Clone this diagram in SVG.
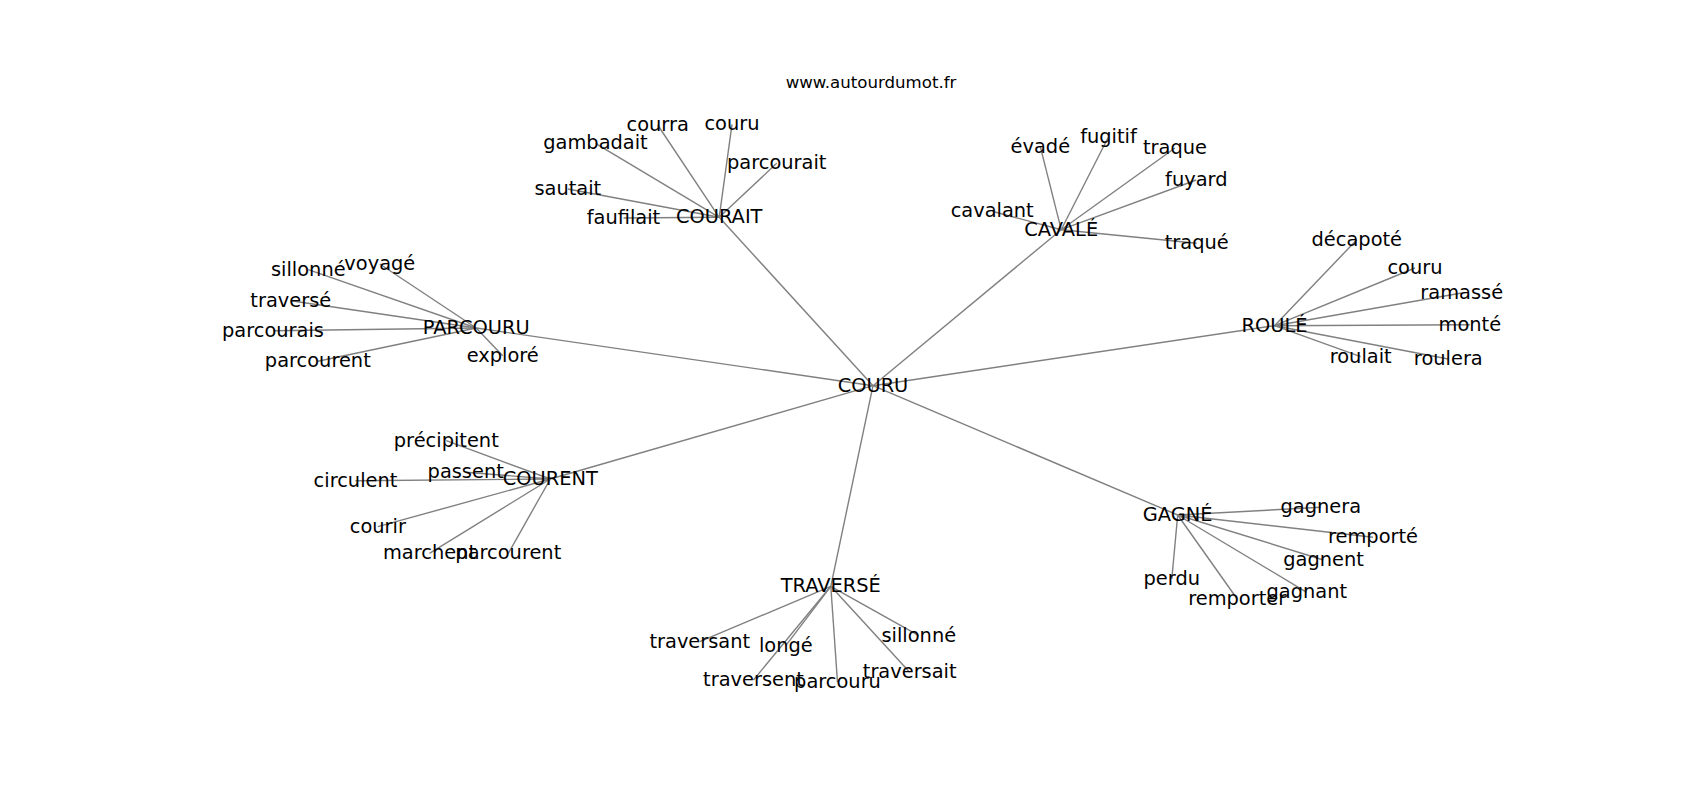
<svg xmlns="http://www.w3.org/2000/svg" width="1700" height="800" viewBox="0 0 1700 800">
<style>
  .bg { fill: #ffffff; }
  .lbl { font-family: "DejaVu Sans", "Liberation Sans", sans-serif; font-size: 19.4px; fill: #000000; text-anchor: middle; }
  .title { font-family: "DejaVu Sans", "Liberation Sans", sans-serif; font-size: 16.6px; fill: #000000; text-anchor: middle; }
  .edges line { stroke: #808080; stroke-width: 1.4; }
</style>
<rect class="bg" x="0" y="0" width="1700" height="800"/>
<text class="title" x="871" y="88.3">www.autourdumot.fr</text>
<g class="edges" id="connectors">
  <!-- hub edges -->
  <line x1="873" y1="385.7" x2="719.2" y2="217.3"/>
  <line x1="873" y1="385.7" x2="1061.2" y2="229.7"/>
  <line x1="873" y1="385.7" x2="1274.5" y2="325.7"/>
  <line x1="873" y1="385.7" x2="476.2" y2="328"/>
  <line x1="873" y1="385.7" x2="550.3" y2="479"/>
  <line x1="873" y1="385.7" x2="830.8" y2="586.3"/>
  <line x1="873" y1="385.7" x2="1177.7" y2="515"/>
  <!-- COURAIT -->
  <line x1="719.2" y1="217.3" x2="657.7" y2="125"/>
  <line x1="719.2" y1="217.3" x2="732" y2="124.3"/>
  <line x1="719.2" y1="217.3" x2="595.5" y2="143.3"/>
  <line x1="719.2" y1="217.3" x2="776.7" y2="163.3"/>
  <line x1="719.2" y1="217.3" x2="567.8" y2="189"/>
  <line x1="719.2" y1="217.3" x2="623.5" y2="218"/>
  <!-- CAVALÉ -->
  <line x1="1061.2" y1="229.7" x2="1040.3" y2="146.7"/>
  <line x1="1061.2" y1="229.7" x2="1108.5" y2="136.7"/>
  <line x1="1061.2" y1="229.7" x2="1175" y2="148"/>
  <line x1="1061.2" y1="229.7" x2="1196.3" y2="180"/>
  <line x1="1061.2" y1="229.7" x2="992.2" y2="211.3"/>
  <line x1="1061.2" y1="229.7" x2="1196.7" y2="243.3"/>
  <!-- ROULÉ -->
  <line x1="1274.5" y1="325.7" x2="1356.8" y2="239.7"/>
  <line x1="1274.5" y1="325.7" x2="1415" y2="268"/>
  <line x1="1274.5" y1="325.7" x2="1461.7" y2="293"/>
  <line x1="1274.5" y1="325.7" x2="1469.8" y2="324.7"/>
  <line x1="1274.5" y1="325.7" x2="1360.7" y2="356.7"/>
  <line x1="1274.5" y1="325.7" x2="1448.3" y2="359"/>
  <!-- PARCOURU -->
  <line x1="476.2" y1="328" x2="308.3" y2="269.7"/>
  <line x1="476.2" y1="328" x2="379.8" y2="264"/>
  <line x1="476.2" y1="328" x2="290.8" y2="300.7"/>
  <line x1="476.2" y1="328" x2="273" y2="330.7"/>
  <line x1="476.2" y1="328" x2="317.8" y2="361.3"/>
  <line x1="476.2" y1="328" x2="502.7" y2="355.7"/>
  <!-- COURENT -->
  <line x1="550.3" y1="479" x2="446.3" y2="440.7"/>
  <line x1="550.3" y1="479" x2="465.7" y2="472.3"/>
  <line x1="550.3" y1="479" x2="355.5" y2="480.7"/>
  <line x1="550.3" y1="479" x2="377.8" y2="526.7"/>
  <line x1="550.3" y1="479" x2="429.5" y2="553.3"/>
  <line x1="550.3" y1="479" x2="508.3" y2="553.3"/>
  <!-- TRAVERSÉ -->
  <line x1="830.8" y1="586.3" x2="699.8" y2="641.7"/>
  <line x1="830.8" y1="586.3" x2="785.8" y2="645.7"/>
  <line x1="830.8" y1="586.3" x2="918.8" y2="635.7"/>
  <line x1="830.8" y1="586.3" x2="753.5" y2="680"/>
  <line x1="830.8" y1="586.3" x2="837.5" y2="682.3"/>
  <line x1="830.8" y1="586.3" x2="909.7" y2="672.3"/>
  <!-- GAGNÉ -->
  <line x1="1177.7" y1="515" x2="1320.8" y2="507.3"/>
  <line x1="1177.7" y1="515" x2="1373" y2="537.3"/>
  <line x1="1177.7" y1="515" x2="1323.5" y2="560"/>
  <line x1="1177.7" y1="515" x2="1171.8" y2="579"/>
  <line x1="1177.7" y1="515" x2="1237.2" y2="599"/>
  <line x1="1177.7" y1="515" x2="1306.8" y2="592.3"/>
</g>
<g id="n-couru"><text class="lbl" x="873" y="391.7">COURU</text></g>
<g id="n-courait"><text class="lbl" x="719.2" y="223.3">COURAIT</text></g>
<g id="n-cavale"><text class="lbl" x="1061.2" y="235.7">CAVALÉ</text></g>
<g id="n-roule"><text class="lbl" x="1274.5" y="331.7">ROULÉ</text></g>
<g id="n-parcouru"><text class="lbl" x="476.2" y="334">PARCOURU</text></g>
<g id="n-courent"><text class="lbl" x="550.3" y="485">COURENT</text></g>
<g id="n-traverse"><text class="lbl" x="830.8" y="592.3">TRAVERSÉ</text></g>
<g id="n-gagne"><text class="lbl" x="1177.7" y="521">GAGNÉ</text></g>

<g id="n-courait-courra"><text class="lbl" x="657.7" y="131">courra</text></g>
<g id="n-courait-couru"><text class="lbl" x="732" y="130.3">couru</text></g>
<g id="n-courait-gambadait"><text class="lbl" x="595.5" y="149.3">gambadait</text></g>
<g id="n-courait-parcourait"><text class="lbl" x="776.7" y="169.3">parcourait</text></g>
<g id="n-courait-sautait"><text class="lbl" x="567.8" y="195">sautait</text></g>
<g id="n-courait-faufilait"><text class="lbl" x="623.5" y="224">faufilait</text></g>

<g id="n-cavale-evade"><text class="lbl" x="1040.3" y="152.7">évadé</text></g>
<g id="n-cavale-fugitif"><text class="lbl" x="1108.5" y="142.7">fugitif</text></g>
<g id="n-cavale-traque"><text class="lbl" x="1175" y="154">traque</text></g>
<g id="n-cavale-fuyard"><text class="lbl" x="1196.3" y="186">fuyard</text></g>
<g id="n-cavale-cavalant"><text class="lbl" x="992.2" y="217.3">cavalant</text></g>
<g id="n-cavale-traque2"><text class="lbl" x="1196.7" y="249.3">traqué</text></g>

<g id="n-roule-decapote"><text class="lbl" x="1356.8" y="245.7">décapoté</text></g>
<g id="n-roule-couru"><text class="lbl" x="1415" y="274">couru</text></g>
<g id="n-roule-ramasse"><text class="lbl" x="1461.7" y="299">ramassé</text></g>
<g id="n-roule-monte"><text class="lbl" x="1469.8" y="330.7">monté</text></g>
<g id="n-roule-roulait"><text class="lbl" x="1360.7" y="362.7">roulait</text></g>
<g id="n-roule-roulera"><text class="lbl" x="1448.3" y="365">roulera</text></g>

<g id="n-parcouru-sillonne"><text class="lbl" x="308.3" y="275.7">sillonné</text></g>
<g id="n-parcouru-voyage"><text class="lbl" x="379.8" y="270">voyagé</text></g>
<g id="n-parcouru-traverse"><text class="lbl" x="290.8" y="306.7">traversé</text></g>
<g id="n-parcouru-parcourais"><text class="lbl" x="273" y="336.7">parcourais</text></g>
<g id="n-parcouru-parcourent"><text class="lbl" x="317.8" y="367.3">parcourent</text></g>
<g id="n-parcouru-explore"><text class="lbl" x="502.7" y="361.7">exploré</text></g>

<g id="n-courent-precipitent"><text class="lbl" x="446.3" y="446.7">précipitent</text></g>
<g id="n-courent-passent"><text class="lbl" x="465.7" y="478.3">passent</text></g>
<g id="n-courent-circulent"><text class="lbl" x="355.5" y="486.7">circulent</text></g>
<g id="n-courent-courir"><text class="lbl" x="377.8" y="532.7">courir</text></g>
<g id="n-courent-marchent"><text class="lbl" x="429.5" y="559.3">marchent</text></g>
<g id="n-courent-parcourent"><text class="lbl" x="508.3" y="559.3">parcourent</text></g>

<g id="n-traverse-traversant"><text class="lbl" x="699.8" y="647.7">traversant</text></g>
<g id="n-traverse-longe"><text class="lbl" x="785.8" y="651.7">longé</text></g>
<g id="n-traverse-sillonne"><text class="lbl" x="918.8" y="641.7">sillonné</text></g>
<g id="n-traverse-traversent"><text class="lbl" x="753.5" y="686">traversent</text></g>
<g id="n-traverse-parcouru"><text class="lbl" x="837.5" y="688.3">parcouru</text></g>
<g id="n-traverse-traversait"><text class="lbl" x="909.7" y="678.3">traversait</text></g>

<g id="n-gagne-gagnera"><text class="lbl" x="1320.8" y="513.3">gagnera</text></g>
<g id="n-gagne-remporte"><text class="lbl" x="1373" y="543.3">remporté</text></g>
<g id="n-gagne-gagnent"><text class="lbl" x="1323.5" y="566">gagnent</text></g>
<g id="n-gagne-perdu"><text class="lbl" x="1171.8" y="585">perdu</text></g>
<g id="n-gagne-remporter"><text class="lbl" x="1237.2" y="605">remporter</text></g>
<g id="n-gagne-gagnant"><text class="lbl" x="1306.8" y="598.3">gagnant</text></g>
</svg>
